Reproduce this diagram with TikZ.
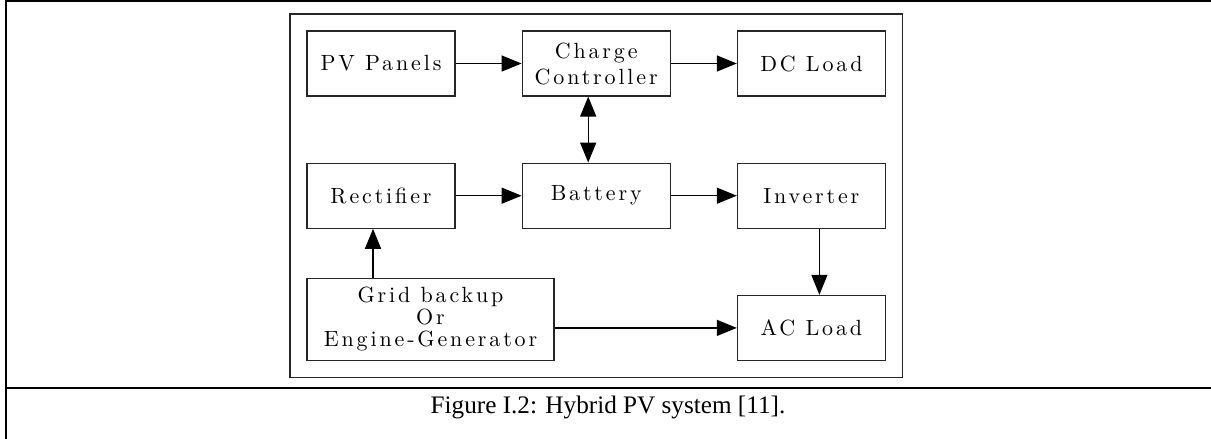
\documentclass[tikz,border=0pt]{standalone}
\usepackage{fontspec}
\newfontfamily\capfont{Liberation Serif}
\newfontfamily\spacedlm{lmroman10-regular.otf}[LetterSpace=13]
\usetikzlibrary{arrows.meta,positioning,fit}
\newcommand{\boxfont}{\spacedlm\fontsize{11}{13}\selectfont}
\tikzset{
  box/.style   ={draw=black!85,line width=0.6pt,minimum width=74pt,minimum height=32.5pt,
                 inner sep=2pt,align=center,font=\boxfont},
  frame/.style ={draw=black!85,line width=0.6pt,inner sep=8.25pt},
  rule/.style  ={line width=1.1pt},
  flow/.style  ={-{Triangle[length=10pt,width=8pt]},line width=0.7pt},
  both/.style  ={{Triangle[length=10pt,width=8pt]}-{Triangle[length=10pt,width=8pt]},line width=0.7pt}
}

\begin{document}
\begin{tikzpicture}[x=0.5pt,y=-0.5pt,node distance=33pt]
  \useasboundingbox (0,0) rectangle (1211,439);
  \draw[rule] (5,1) -- (1211,1);
  \draw[rule] (6,1) -- (6,439);
  \draw[rule] (6,388) -- (1211,388);
  \node[box] (pv) at (381,63.5) {PV Panels};
  \node[box,right=of pv] (cc) {Charge\\Controller};
  \node[box,right=of cc] (dc) {DC Load};
  \node[box,below=of pv] (rect) {Rectifier};
  \node[box,below=of cc] (bat) {Battery};
  \node[box,below=of dc] (inv) {Inverter};
  \node[box,below=of inv] (ac) {AC Load};
  \node[box,minimum width=123.5pt,minimum height=41pt,below=24.5pt of rect.south west,
        anchor=north west,font=\boxfont\fontsize{11}{11}\selectfont] (grid)
        {Grid backup\\Or\\Engine-Generator};
  \node[frame,fit=(pv)(dc)(grid)(ac)] (frm) {};
  \draw[flow] (pv) -- (cc);
  \draw[flow] (cc) -- (dc);
  \draw[flow] (rect) -- (bat);
  \draw[flow] (bat) -- (inv);
  \draw[both] ([xshift=-4pt]cc.south) -- ([xshift=-4pt]bat.north);
  \draw[flow] ([xshift=-4pt]rect.south |- grid.north) -- ([xshift=-4pt]rect.south);
  \draw[flow] ([xshift=4pt]inv.south) -- ([xshift=4pt]ac.north);
  \draw[flow] (grid.east |- ac.west) -- (ac.west);
  \node[font=\capfont\fontsize{12.6}{15}\selectfont,anchor=base] (cap) at (608,413)
        {Figure I.2: Hybrid PV system [11].};
\end{tikzpicture}
\end{document}
